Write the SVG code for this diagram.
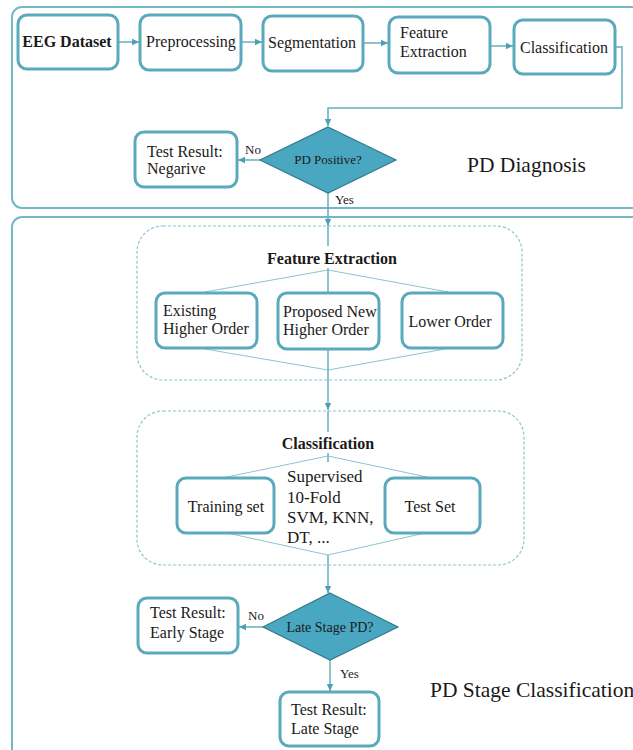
<svg xmlns="http://www.w3.org/2000/svg" width="633" height="750" viewBox="0 0 633 750">
<style>
.frame{fill:none;stroke:#72b8c8;stroke-width:2}
.box{fill:#fff;stroke:#5aa9bc;stroke-width:3}
.dash{fill:none;stroke:#8cc4d0;stroke-width:1.2;stroke-dasharray:3 2}
.dia{fill:#4aa7c1;stroke:#35798b;stroke-width:1.2}
.ln{fill:none;stroke:#67afc1;stroke-width:1.5}
.fan{fill:none;stroke:#8cc4d0;stroke-width:1}
text{font-family:"Liberation Serif","Times New Roman",serif;fill:#1a1a1a}
.t{font-size:16px}
.b{font-size:16px;font-weight:bold}
.s{font-size:13px}
.big{font-size:21.5px}
</style>
<defs>
<marker id="ah" markerWidth="8" markerHeight="8" refX="7" refY="4" orient="auto" markerUnits="userSpaceOnUse">
<path d="M0,0.8 L7,4 L0,7.2 Z" fill="#4aa1b6"/>
</marker>
</defs>

<rect class="frame" x="12" y="7" width="680" height="201" rx="10"/>
<rect class="frame" x="12" y="217" width="680" height="600" rx="10"/>
<text class="big" x="467" y="172">PD Diagnosis</text>
<text class="big" x="430" y="697">PD Stage Classification</text>

<g id="fe-group">
<rect class="dash" x="137" y="226" width="385" height="154" rx="26"/>
<text class="b" x="332" y="264" text-anchor="middle">Feature Extraction</text>
<polyline class="fan" points="205,292 328,270 448,292"/>
<polyline class="fan" points="205,349 328,370 445,349"/>
</g>
<g id="cls-group">
<rect class="dash" x="137" y="411" width="387" height="154" rx="26"/>
<text class="b" x="328" y="449" text-anchor="middle">Classification</text>
<polyline class="fan" points="227,477 328,456 427,477"/>
<polyline class="fan" points="227,533 328,555 425,533"/>
</g>

<g id="connectors">
<line class="ln" x1="118" y1="42" x2="139" y2="42" marker-end="url(#ah)"/>
<line class="ln" x1="241" y1="42" x2="262" y2="42" marker-end="url(#ah)"/>
<line class="ln" x1="363" y1="43" x2="388" y2="43" marker-end="url(#ah)"/>
<line class="ln" x1="490" y1="46" x2="513" y2="46" marker-end="url(#ah)"/>
<polyline class="ln" points="615,47 622,47 622,108 328,108 328,126" marker-end="url(#ah)"/>
<line class="ln" x1="260" y1="160" x2="238" y2="160" marker-end="url(#ah)"/>
<line class="ln" x1="328" y1="193" x2="328" y2="226" marker-end="url(#ah)"/>
<line class="ln" x1="328" y1="226" x2="328" y2="246"/>
<line class="ln" x1="328" y1="268" x2="328" y2="293"/>
<line class="ln" x1="328" y1="349" x2="328" y2="410" marker-end="url(#ah)"/>
<line class="ln" x1="328" y1="411" x2="328" y2="432"/>
<line class="ln" x1="328" y1="453" x2="328" y2="462"/>
<line class="ln" x1="328" y1="555" x2="328" y2="593" marker-end="url(#ah)"/>
<line class="ln" x1="263" y1="627" x2="239" y2="627" marker-end="url(#ah)"/>
<line class="ln" x1="330" y1="660" x2="330" y2="691" marker-end="url(#ah)"/>
</g>

<g id="eeg"><rect class="box" x="18" y="15" width="100" height="54" rx="9"/><text class="b" x="67" y="47" text-anchor="middle">EEG Dataset</text></g>
<g id="pre"><rect class="box" x="140" y="15" width="101" height="55" rx="9"/><text class="t" x="191" y="47" text-anchor="middle">Preprocessing</text></g>
<g id="seg"><rect class="box" x="263" y="16" width="100" height="55" rx="9"/><text class="t" x="312" y="48" text-anchor="middle">Segmentation</text></g>
<g id="fe"><rect class="box" x="389" y="17" width="101" height="56" rx="9"/><text class="t" x="400" y="38">Feature</text><text class="t" x="400" y="57">Extraction</text></g>
<g id="cls"><rect class="box" x="514" y="20" width="101" height="54" rx="9"/><text class="t" x="564" y="53" text-anchor="middle">Classification</text></g>

<g id="pdpos"><polygon class="dia" points="328,127 396,160 328,193 260,160"/><text class="s" x="328" y="164" text-anchor="middle">PD Positive?</text></g>
<text class="s" x="245" y="154">No</text>
<text class="s" x="335" y="204">Yes</text>
<g id="neg"><rect class="box" x="135" y="132" width="102" height="55" rx="9"/><text class="t" x="147" y="157">Test Result:</text><text class="t" x="147" y="174">Negarive</text></g>

<g id="exist"><rect class="box" x="156" y="293" width="101" height="55" rx="9"/><text class="t" x="163" y="316">Existing</text><text class="t" x="163" y="334">Higher Order</text></g>
<g id="prop"><rect class="box" x="278" y="293" width="101" height="56" rx="9"/><text class="t" x="283" y="317">Proposed New</text><text class="t" x="283" y="335">Higher Order</text></g>
<g id="lower"><rect class="box" x="402" y="293" width="101" height="55" rx="9"/><text class="t" x="450" y="327" text-anchor="middle">Lower Order</text></g>

<g id="train"><rect class="box" x="177" y="478" width="97" height="55" rx="9"/><text class="t" x="226" y="512" text-anchor="middle">Training set</text></g>
<g id="algo"><text class="t" style="font-size:17px" x="287" y="482">Supervised</text><text class="t" style="font-size:17px" x="287" y="503">10-Fold</text><text class="t" style="font-size:17px" x="287" y="523">SVM, KNN,</text><text class="t" style="font-size:17px" x="287" y="543">DT, ...</text></g>
<g id="test"><rect class="box" x="385" y="478" width="95" height="55" rx="9"/><text class="t" x="430" y="512" text-anchor="middle">Test Set</text></g>

<g id="late"><polygon class="dia" points="330,593 398,627 330,660 263,627"/><text class="s" style="font-size:14px" x="330" y="632" text-anchor="middle">Late Stage PD?</text></g>
<text class="s" x="248" y="620">No</text>
<text class="s" x="340" y="678">Yes</text>
<g id="early"><rect class="box" x="138" y="598" width="100" height="55" rx="9"/><text class="t" x="150" y="618">Test Result:</text><text class="t" x="150" y="638">Early Stage</text></g>
<g id="lateres"><rect class="box" x="280" y="692" width="99" height="54" rx="9"/><text class="t" x="291" y="715">Test Result:</text><text class="t" x="291" y="734">Late Stage</text></g>
</svg>
